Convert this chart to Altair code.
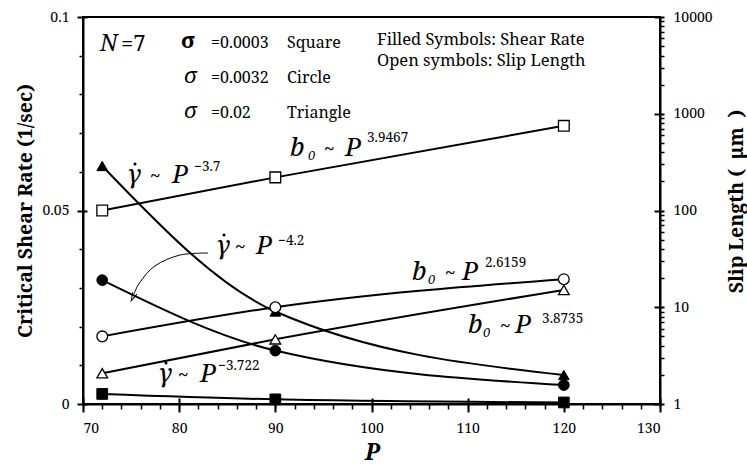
import altair as alt
import pandas as pd

# ---- measured values -------------------------------------------------------
P = [72, 90, 120]
series = ["Square", "Circle", "Triangle"]

# critical shear rate (1/sec), filled symbols, left axis
shear_square = [0.0026, 0.0012, 0.0004]
shear_circle = [0.0320, 0.0138, 0.0049]
shear_triangle = [0.0615, 0.0239, 0.0075]

# slip length (um), open symbols, right log axis
slip_square = [100.0, 220.0, 750.0]
slip_circle = [5.0, 10.0, 19.5]
slip_triangle = [2.08, 4.66, 15.1]

x_ticks = [70, 80, 90, 100, 110, 120, 130]
x_minor = list(range(70, 131, 2))
y_left_ticks = [0, 0.05, 0.1]
y_left_minor = [0.01, 0.02, 0.03, 0.04, 0.06, 0.07, 0.08, 0.09]
y_right_ticks = [1, 10, 100, 1000, 10000]
y_right_minor = [m * d for d in (1, 10, 100, 1000) for m in range(2, 10)]

shear = pd.DataFrame({
    "P": P * 3,
    "value": shear_square + shear_circle + shear_triangle,
    "series": [s for s in series for _ in P],
})
slip = pd.DataFrame({
    "P": P * 3,
    "value": slip_square + slip_circle + slip_triangle,
    "series": [s for s in series for _ in P],
})

SERIF = "Noto Serif"
W, H = 577, 387

x_scale = alt.Scale(domain=[70, 130], nice=False, zero=False)
yl_scale = alt.Scale(domain=[0, 0.1], nice=False, zero=False)
yr_scale = alt.Scale(type="log", domain=[1, 10000], nice=False)
shape_scale = alt.Scale(domain=series, range=["square", "circle", "triangle-up"])

common = dict(domainColor="black", tickColor="black", labelColor="black",
              labelFont=SERIF, grid=False)


def tick_axis(orient, values, size, width, offset=0):
    return alt.Axis(orient=orient, values=values, tickSize=size, tickWidth=width,
                    offset=offset, labels=False, domain=False, title=None, **common)


x_main = alt.Axis(orient="bottom", values=x_ticks, tickSize=8, tickWidth=2,
                  domainWidth=2, labelPadding=9, labelFontSize=14,
                  title="P", titleFont=SERIF, titleFontSize=23,
                  titleFontStyle="italic", titleFontWeight="bold",
                  titleColor="black", titleX=289, titleY=55,
                  titleBaseline="alphabetic", **common)
yl_main = alt.Axis(orient="left", values=y_left_ticks, format="~g", tickSize=6,
                   tickWidth=2, domainWidth=2, labelPadding=8, labelFontSize=14,
                   title="Critical Shear Rate (1/sec)", titleFont=SERIF,
                   titleFontSize=19.5, titleFontWeight="bold", titleColor="black",
                   titleAngle=270, titleX=-58, titleY=H / 2,
                   titleBaseline="middle", titleAlign="center", **common)
yr_main = alt.Axis(orient="right", values=y_right_ticks, format="d", tickSize=4,
                   tickWidth=2, domainWidth=2, labelPadding=9, labelFontSize=14,
                   title="Slip Length (\u2002μm\u2002)", titleFont=SERIF,
                   titleFontSize=19.5, titleFontWeight="bold", titleColor="black",
                   titleAngle=270, titleX=76, titleY=184,
                   titleBaseline="middle", titleAlign="center", **common)


def X(field="P", axis=None):
    return alt.X(f"{field}:Q", scale=x_scale, axis=axis)


def YL(field="value", axis=None):
    return alt.Y(f"{field}:Q", scale=yl_scale, axis=axis)


def YR(field="value", axis=None):
    return alt.Y(f"{field}:Q", scale=yr_scale, axis=axis)


# ---- curves and symbols ----------------------------------------------------
shear_lines = alt.Chart(shear).mark_line(
    color="black", strokeWidth=2, interpolate="monotone"
).encode(x=X(axis=x_main), y=YL(axis=yl_main), detail="series:N")

slip_lines = alt.Chart(slip).mark_line(
    color="black", strokeWidth=2, interpolate="monotone"
).encode(x=X(), y=YR(axis=yr_main), detail="series:N")

shear_pts = alt.Chart(shear).mark_point(
    filled=True, fill="black", stroke="black", strokeWidth=1, opacity=1, size=115
).encode(x=X(), y=YL(), shape=alt.Shape("series:N", scale=shape_scale, legend=None))

slip_pts = alt.Chart(slip).mark_point(
    filled=True, fill="white", stroke="black", strokeWidth=1.3, opacity=1, size=115
).encode(x=X(), y=YR(), shape=alt.Shape("series:N", scale=shape_scale, legend=None))

# ---- extra tick sets (minor ticks and the inner half of major ticks) -------
ghost = dict(opacity=0)
left_minor = alt.Chart(shear).mark_point(**ghost).encode(
    x=X(axis=tick_axis("bottom", x_minor, 5, 1.5)),
    y=YL(axis=tick_axis("left", y_left_minor, 4, 1.5)))
left_inner = alt.Chart(shear).mark_point(**ghost).encode(
    x=X(axis=tick_axis("bottom", x_ticks, 6, 2, offset=-6)),
    y=YL(axis=tick_axis("left", y_left_ticks, 4, 2, offset=-4)))
right_minor = alt.Chart(slip).mark_point(**ghost).encode(
    x=X(), y=YR(axis=tick_axis("right", y_right_minor, 4, 1.5)))
right_inner = alt.Chart(slip).mark_point(**ghost).encode(
    x=X(), y=YR(axis=tick_axis("right", y_right_ticks, 6, 2, offset=-6)))

# ---- annotations (positions in P / shear-rate units) -----------------------
def labels(rows, **style):
    df = pd.DataFrame(rows, columns=["text", "x", "y"])
    return alt.Chart(df).mark_text(
        align="left", baseline="alphabetic", font=SERIF, color="black", **style
    ).encode(x=X("x"), y=YL("y"), text="text:N")


n_label = labels([["N", 71.77, 0.0912]], fontSize=23, fontStyle="italic")
upright_big = labels([["=7", 73.95, 0.0912]], fontSize=22)

big_italic = labels([
    ["b", 91.53, 0.0641], ["P", 97.24, 0.0641],
    ["γ", 74.58, 0.0571], ["P", 79.25, 0.0571],
    ["γ", 83.83, 0.0388], ["P", 87.99, 0.0388],
    ["γ", 77.80, 0.00568], ["P", 82.17, 0.00568],
    ["b", 104.21, 0.0320], ["P", 109.41, 0.0320],
    ["b", 110.03, 0.01835], ["P", 114.92, 0.01835],
], fontSize=26, fontStyle="italic")

# the dot over each gamma (time derivative)
gamma_dots = alt.Chart(pd.DataFrame({
    "x": [75.41, 84.66, 78.63],
    "y": [0.0620, 0.0437, 0.01059],
})).mark_circle(color="black", opacity=1, size=9).encode(x=X("x"), y=YL("y"))

tildes = labels([
    ["~", 95.06, 0.0641], ["~", 76.97, 0.0571], ["~", 85.81, 0.0388],
    ["~", 79.88, 0.00568], ["~", 107.64, 0.0320], ["~", 113.36, 0.01835],
], fontSize=19)

subs = labels([
    ["0", 93.40, 0.0630], ["0", 105.88, 0.0310], ["0", 111.59, 0.01731],
], fontSize=13, fontStyle="italic")

sups = labels([
    ["3.9467", 99.54, 0.0677], ["−3.7", 81.55, 0.0602],
    ["−4.2", 90.29, 0.0411], ["−3.722", 84.05, 0.00879],
    ["2.6159", 111.81, 0.0354], ["3.8735", 117.74, 0.02093],
], fontSize=13.5)

sigma_bold = labels([["σ", 80.19, 0.0920]], fontSize=22, fontWeight="bold")
sigma_italic = labels([["σ", 80.50, 0.0829], ["σ", 80.50, 0.0739]],
                      fontSize=22, fontStyle="italic")

legend_text = labels([
    ["=0.0003", 83.31, 0.0920], ["Square", 91.21, 0.0920],
    ["=0.0032", 83.31, 0.0829], ["Circle", 91.21, 0.0829],
    ["=0.02", 83.31, 0.0739], ["Triangle", 91.21, 0.0739],
], fontSize=16)

notes = labels([
    ["Filled Symbols: Shear Rate", 100.57, 0.0928],
    ["Open symbols: Slip Length", 100.57, 0.0873],
], fontSize=16.5)

# curved pointer from the P^-4.2 label to the filled-circle curve
arrow_path = pd.DataFrame({
    "x": [83.0, 80.09, 77.49, 75.93, 75.30],
    "y": [0.0390, 0.0385, 0.0357, 0.0315, 0.0284],
})
arrow_line = alt.Chart(arrow_path).mark_line(
    color="black", strokeWidth=1, interpolate="cardinal"
).encode(x=X("x"), y=YL("y"))
arrow_head = alt.Chart(pd.DataFrame({"x": [75.20], "y": [0.02765]})).mark_point(
    shape="M -0.55 1 L 0 -1 L 0.55 1", filled=False, stroke="black",
    strokeWidth=1, opacity=1, size=70, angle=205
).encode(x=X("x"), y=YL("y"))

chart = alt.layer(
    shear_lines, slip_lines, left_minor, left_inner, right_minor, right_inner,
    shear_pts, slip_pts, arrow_line, arrow_head,
    n_label, upright_big, big_italic, gamma_dots, tildes, subs, sups,
    sigma_bold, sigma_italic, legend_text, notes,
).resolve_scale(
    x="independent", y="independent", shape="shared"
).properties(
    width=W, height=H,
    autosize=alt.AutoSizeParams(type="none"),
    padding={"left": 83, "top": 17, "right": 87, "bottom": 64},
    background="white",
).configure_view(
    stroke="black", strokeWidth=2
)

chart.save("out.html", embed_options={"renderer": "svg", "actions": False})
